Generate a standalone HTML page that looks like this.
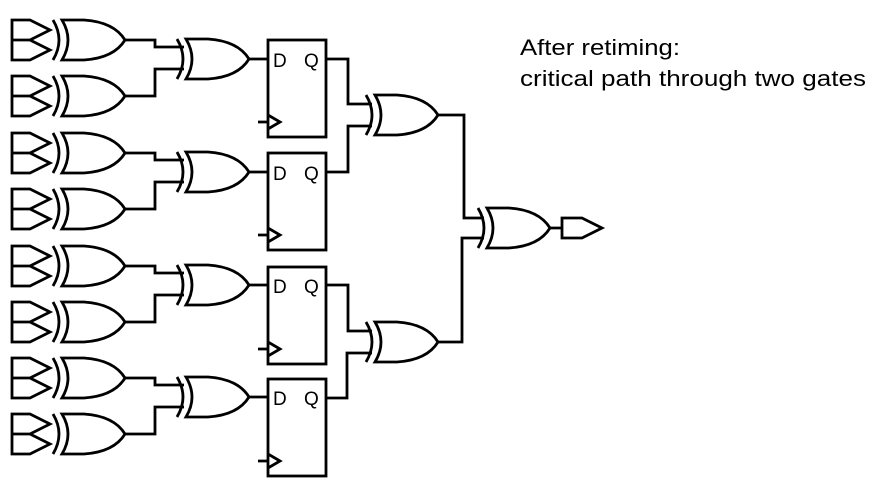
<!DOCTYPE html>
<html><head><style>body{margin:0;background:#fff}svg{display:block}</style></head><body>
<svg width="873" height="491" viewBox="0 0 873 491" xmlns="http://www.w3.org/2000/svg" font-family="Liberation Sans, sans-serif">
<defs>
<g id="x" fill="none" stroke="#000" stroke-width="2.8">
<path d="M-9,-20 Q3,0 -9,20"/>
<path d="M0,-20 L22,-20 Q52,-18 63,0 Q52,18 22,20 L0,20 Q12,0 0,-20 Z"/>
</g>
<g id="in" fill="none" stroke="#000" stroke-width="2.8">
<path d="M12,-20 L30,-20 L50,-10 L30,0 L50,10 L30,20 L12,20 Z M12,0 L30,0"/>
</g>
<g id="ff" fill="none" stroke="#000" stroke-width="2.8">
<rect x="268" y="0" width="58" height="97"/>
<path d="M258,82 L268,82 M268,75 L280,82 L268,89"/>
</g>
</defs>
<g fill="none" stroke="#000" stroke-width="2.8">
<use href="#in" x="0" y="40"/><use href="#x" x="62" y="40"/>
<use href="#in" x="0" y="96"/><use href="#x" x="62" y="96"/>
<use href="#in" x="0" y="153"/><use href="#x" x="62" y="153"/>
<use href="#in" x="0" y="209"/><use href="#x" x="62" y="209"/>
<use href="#in" x="0" y="266"/><use href="#x" x="62" y="266"/>
<use href="#in" x="0" y="322"/><use href="#x" x="62" y="322"/>
<use href="#in" x="0" y="378"/><use href="#x" x="62" y="378"/>
<use href="#in" x="0" y="434"/><use href="#x" x="62" y="434"/>
<use href="#x" x="186" y="59"/><use href="#x" x="186" y="172"/>
<use href="#x" x="186" y="285"/><use href="#x" x="186" y="397"/>
<path d="M125,40 H155 V47 H184 M125,96 H155 V69 H184"/>
<path d="M125,153 H155 V160 H184 M125,209 H155 V182 H184"/>
<path d="M125,266 H155 V273 H184 M125,322 H155 V295 H184"/>
<path d="M125,378 H155 V385 H184 M125,434 H155 V407 H184"/>
<path d="M249,59 H268 M249,172 H268 M249,285 H268 M249,397 H268"/>
<use href="#ff" x="0" y="40"/><use href="#ff" x="0" y="153"/>
<use href="#ff" x="0" y="267"/><use href="#ff" x="0" y="379"/>
<use href="#x" x="375" y="115"/><use href="#x" x="375" y="342"/>
<path d="M326,59 H348 V104 H372 M326,172 H348 V126 H372"/>
<path d="M326,285 H348 V331 H372 M326,398 H347 V353 H372"/>
<path d="M438,115 H464 V218 H484 M438,342 H462 V238 H484"/>
<use href="#x" x="487" y="228"/>
<path d="M550,228 H562 M562,218 H582 L602,228 L582,238 H562 Z"/>
</g>
<g font-size="19" fill="#000">
<text x="273" y="67">D</text><text x="304" y="67">Q</text>
<text x="273" y="180">D</text><text x="304" y="180">Q</text>
<text x="273" y="293">D</text><text x="304" y="293">Q</text>
<text x="273" y="405">D</text><text x="304" y="405">Q</text>
</g>
<g font-size="22" fill="#000">
<text x="520" y="55" textLength="160" lengthAdjust="spacingAndGlyphs">After retiming:</text>
<text x="520" y="86" textLength="346" lengthAdjust="spacingAndGlyphs">critical path through two gates</text>
</g>
</svg>
</body></html>
